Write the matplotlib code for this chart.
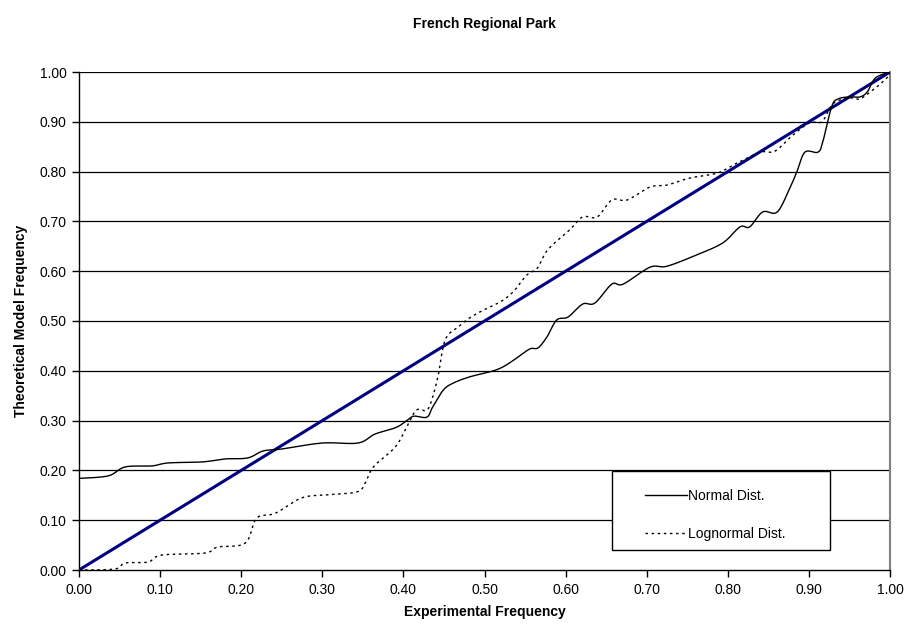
import matplotlib
matplotlib.use("Agg")
import matplotlib.pyplot as plt
from matplotlib.lines import Line2D
from matplotlib.patches import Rectangle

plt.rcParams['font.family'] = ['Liberation Sans', 'DejaVu Sans']

# Experimental vs theoretical cumulative frequencies
normal_x = [0.000, 0.036, 0.057, 0.090, 0.110, 0.152, 0.180, 0.208, 0.227, 0.250,
            0.300, 0.344, 0.365, 0.392, 0.408, 0.414, 0.429, 0.436, 0.449, 0.461,
            0.482, 0.507, 0.523, 0.540, 0.556, 0.566, 0.577, 0.589, 0.603, 0.621,
            0.636, 0.657, 0.671, 0.704, 0.725, 0.762, 0.794, 0.815, 0.827, 0.843,
            0.861, 0.877, 0.885, 0.895, 0.911, 0.917, 0.928, 0.936, 0.951, 0.963,
            0.972, 0.982, 1.000]
normal_y = [0.184, 0.189, 0.207, 0.209, 0.215, 0.217, 0.223, 0.225, 0.239, 0.243,
            0.255, 0.255, 0.273, 0.287, 0.305, 0.309, 0.307, 0.327, 0.361, 0.375,
            0.388, 0.398, 0.408, 0.426, 0.444, 0.446, 0.468, 0.502, 0.508, 0.534,
            0.536, 0.574, 0.574, 0.608, 0.610, 0.633, 0.657, 0.689, 0.689, 0.719,
            0.719, 0.769, 0.799, 0.839, 0.839, 0.859, 0.930, 0.946, 0.950, 0.950,
            0.960, 0.988, 1.000]

lognormal_x = [0.000, 0.044, 0.057, 0.085, 0.102, 0.155, 0.171, 0.205, 0.219, 0.242,
               0.275, 0.307, 0.343, 0.353, 0.363, 0.390, 0.404, 0.416, 0.429, 0.436,
               0.443, 0.449, 0.455, 0.466, 0.478, 0.494, 0.519, 0.535, 0.552, 0.565,
               0.578, 0.605, 0.621, 0.639, 0.657, 0.676, 0.704, 0.725, 0.753, 0.787,
               0.811, 0.840, 0.858, 0.880, 0.901, 0.916, 0.926, 0.935, 0.954, 0.963,
               0.979, 0.996, 1.000]
lognormal_y = [0.000, 0.002, 0.014, 0.016, 0.030, 0.034, 0.046, 0.054, 0.104, 0.114,
               0.145, 0.151, 0.157, 0.175, 0.207, 0.247, 0.287, 0.321, 0.321, 0.347,
               0.392, 0.448, 0.472, 0.486, 0.502, 0.518, 0.538, 0.558, 0.592, 0.606,
               0.643, 0.683, 0.709, 0.709, 0.743, 0.743, 0.769, 0.773, 0.787, 0.797,
               0.817, 0.839, 0.841, 0.873, 0.898, 0.900, 0.928, 0.942, 0.948, 0.946,
               0.964, 0.988, 1.000]

ticks = [0.0, 0.1, 0.2, 0.3, 0.4, 0.5, 0.6, 0.7, 0.8, 0.9, 1.0]
tick_labels = ["0.00", "0.10", "0.20", "0.30", "0.40", "0.50",
               "0.60", "0.70", "0.80", "0.90", "1.00"]


def smooth(xs, ys, steps=12):
    """Catmull-Rom path through the points, like a smoothed line chart."""
    px, py = [], []
    n = len(xs)
    for i in range(n - 1):
        x0, y0 = (xs[i - 1], ys[i - 1]) if i > 0 else (xs[i], ys[i])
        x1, y1 = xs[i], ys[i]
        x2, y2 = xs[i + 1], ys[i + 1]
        x3, y3 = (xs[i + 2], ys[i + 2]) if i + 2 < n else (xs[i + 1], ys[i + 1])
        for s in range(steps):
            t = s / steps
            t2, t3 = t * t, t * t * t
            px.append(0.5 * (2 * x1 + (-x0 + x2) * t + (2 * x0 - 5 * x1 + 4 * x2 - x3) * t2
                             + (-x0 + 3 * x1 - 3 * x2 + x3) * t3))
            py.append(0.5 * (2 * y1 + (-y0 + y2) * t + (2 * y0 - 5 * y1 + 4 * y2 - y3) * t2
                             + (-y0 + 3 * y1 - 3 * y2 + y3) * t3))
    px.append(xs[-1])
    py.append(ys[-1])
    return px, py


W, H = 910, 639
fig = plt.figure(figsize=(W / 100, H / 100), dpi=100)
ax = fig.add_axes([79 / W, 69 / H, 811 / W, 498 / H])

ax.set_xlim(0, 1)
ax.set_ylim(0, 1)
ax.set_xticks(ticks)
ax.set_xticklabels(tick_labels)
ax.set_yticks(ticks)
ax.set_yticklabels(tick_labels)
ax.tick_params(axis='both', direction='out', length=5, width=1, color='black',
               labelsize=10, pad=4)

for yv in ticks[1:]:
    ax.axhline(yv, color='black', lw=0.9, zorder=1)

for side in ['left', 'bottom']:
    ax.spines[side].set_color('black')
    ax.spines[side].set_linewidth(1)
ax.spines['top'].set_visible(False)
ax.spines['right'].set_color('#808080')
ax.spines['right'].set_linewidth(1.5)

# 1:1 reference line
ax.plot([0, 1], [0, 1], color='#000080', lw=2.2, zorder=3, solid_capstyle='butt')

nx, ny = smooth(normal_x, normal_y)
ax.plot(nx, ny, color='black', lw=1.0, zorder=4)
lx, ly = smooth(lognormal_x, lognormal_y)
ax.plot(lx, ly, color='black', lw=1.0, linestyle=(0, (1.8, 2.6)), zorder=4)

ax.set_xlabel("Experimental Frequency", fontsize=10, fontweight='bold', labelpad=6)
ax.set_ylabel("Theoretical Model Frequency", fontsize=10, fontweight='bold', labelpad=8)
fig.text(484 / W, 1 - 24 / H, "French Regional Park", ha='center', va='center',
         fontsize=10, fontweight='bold')

# legend box
box = Rectangle((612 / W, 1 - 550 / H), (830 - 612) / W, (550 - 471) / H,
                transform=fig.transFigure, facecolor='white', edgecolor='black',
                lw=1.0, zorder=5)
fig.patches.append(box)

handles = [Line2D([], [], color='black', lw=1.0),
           Line2D([], [], color='black', lw=1.0, linestyle=(0, (1.8, 2.6)))]
leg = fig.legend(handles, ["Normal Dist.", "Lognormal Dist."],
                 loc='upper left', bbox_to_anchor=(645 / W, 1 - 489 / H),
                 bbox_transform=fig.transFigure, frameon=False,
                 fontsize=10, handlelength=3.0, handletextpad=0.12, labelspacing=1.75,
                 borderpad=0, borderaxespad=0)
leg.set_zorder(6)

fig.savefig("out.png", dpi=100, facecolor='white')
